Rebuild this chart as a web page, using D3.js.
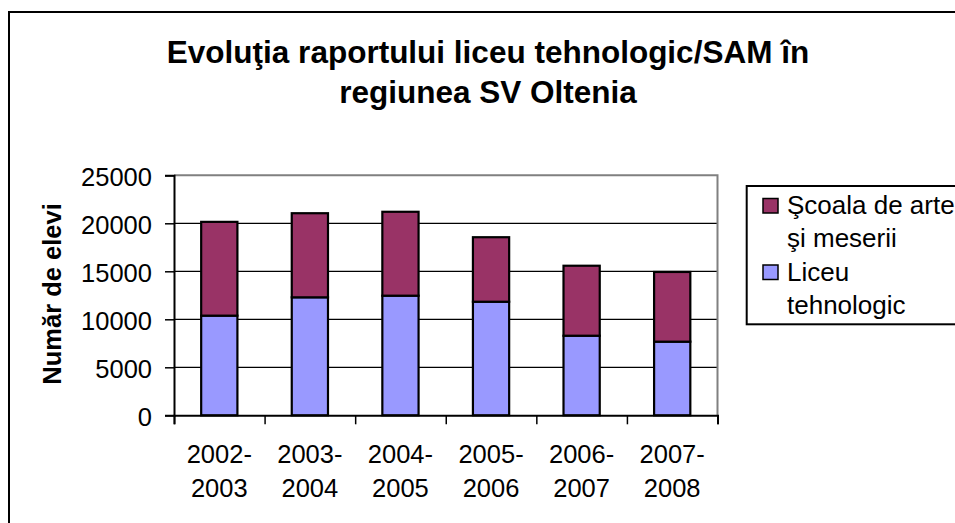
<!DOCTYPE html>
<html>
<head>
<meta charset="utf-8">
<script src="https://cdn.jsdelivr.net/npm/d3@7"></script>
<style>
  body { margin: 0; background: #fff; }
  svg { display: block; font-family: Arial, "Liberation Sans", sans-serif; }
</style>
</head>
<body>
<div id="chart"></div>
<script>
const years = ["2002-2003", "2003-2004", "2004-2005", "2005-2006", "2006-2007", "2007-2008"];
const liceu = [10380, 12290, 12460, 11830, 8290, 7670];
const sam = [9770, 8760, 8740, 6720, 7290, 7260];
const yTicks = [0, 5000, 10000, 15000, 20000, 25000];
const seriesNames = ["Şcoala de arte şi meserii", "Liceu tehnologic"];
const legendLines = [["Şcoala de arte", "şi meserii"], ["Liceu", "tehnologic"]];
const titleLines = ["Evoluţia raportului liceu tehnologic/SAM în", "regiunea SV Oltenia"];
const yLabel = "Număr de elevi";

const width = 955;
const height = 523;
const colors = { sam: "#993366", liceu: "#9999ff" };

const svg = d3.select("#chart")
  .append("svg")
  .attr("width", width)
  .attr("height", height);

svg.append("rect").attr("width", width).attr("height", height).attr("fill", "#fff");

// outer chart frame (cut off on right and bottom)
svg.append("rect")
  .attr("x", 9).attr("y", 12)
  .attr("width", 1000).attr("height", 600)
  .attr("fill", "none").attr("stroke", "#000").attr("stroke-width", 2);

const plot = { left: 174, right: 717.5, top: 175.3, bottom: 415.3 };

const x = d3.scaleBand().domain(years).range([plot.left, plot.right]);
const xEdge = d3.scaleLinear().domain([0, years.length]).range([plot.left, plot.right]);
const y = d3.scaleLinear().domain([0, 25000]).range([plot.bottom, plot.top]);

const barW = x.bandwidth() / 2.5;

// gridlines
svg.append("g")
  .selectAll("line")
  .data(yTicks.filter(d => d > 0 && d < 25000))
  .enter()
  .append("line")
  .attr("x1", plot.left).attr("x2", plot.right)
  .attr("y1", d => y(d)).attr("y2", d => y(d))
  .attr("stroke", "#000").attr("stroke-width", 1.3);

// plot area border top/right (gray)
svg.append("path")
  .attr("d", `M${plot.left},${y(25000)}H${plot.right}V${plot.bottom}`)
  .attr("fill", "none").attr("stroke", "#808080").attr("stroke-width", 2);

const stacks = years.map((yr, i) => ({ yr, liceu: liceu[i], sam: sam[i] }));

const bars = svg.append("g").selectAll("g").data(stacks).enter().append("g");

bars.append("rect")
  .attr("x", d => x(d.yr) + (x.bandwidth() - barW) / 2)
  .attr("width", barW)
  .attr("y", d => y(d.liceu))
  .attr("height", d => y(0) - y(d.liceu))
  .attr("fill", colors.liceu)
  .attr("stroke", "#000").attr("stroke-width", 2.2);

bars.append("rect")
  .attr("x", d => x(d.yr) + (x.bandwidth() - barW) / 2)
  .attr("width", barW)
  .attr("y", d => y(d.liceu + d.sam))
  .attr("height", d => y(d.liceu) - y(d.liceu + d.sam))
  .attr("fill", colors.sam)
  .attr("stroke", "#000").attr("stroke-width", 2.2);

// y axis
const yAxis = svg.append("g")
  .attr("transform", `translate(${plot.left},0)`)
  .call(d3.axisLeft(y).tickValues(yTicks).tickSize(9).tickPadding(13).tickFormat(d3.format("d")));
yAxis.select(".domain").attr("stroke-width", 2);
yAxis.selectAll(".tick line").attr("stroke-width", 1.5);
yAxis.selectAll("text").attr("font-size", 25.5).attr("fill", "#000").attr("dy", "0.38em");

// x axis (ticks at category boundaries)
const xAxis = svg.append("g")
  .attr("transform", `translate(0,${plot.bottom})`)
  .call(d3.axisBottom(xEdge).tickValues(d3.range(years.length + 1)).tickSize(9).tickFormat(""));
xAxis.select(".domain").attr("stroke-width", 2);
xAxis.selectAll(".tick line").attr("stroke-width", 1.5);

// category labels in two lines
const xl = svg.append("g").selectAll("text").data(years).enter()
  .append("text")
  .attr("x", d => x(d) + x.bandwidth() / 2)
  .attr("y", 463)
  .attr("text-anchor", "middle")
  .attr("font-size", 25.5);
xl.append("tspan").attr("x", d => x(d) + x.bandwidth() / 2).text(d => d.split("-")[0] + "-");
xl.append("tspan").attr("x", d => x(d) + x.bandwidth() / 2).attr("dy", 34).text(d => d.split("-")[1]);

// y label
svg.append("text")
  .attr("transform", "translate(61,294) rotate(-90)")
  .attr("text-anchor", "middle")
  .attr("font-size", 25.5)
  .attr("font-weight", "bold")
  .text(yLabel);

// title
const title = svg.append("text")
  .attr("x", 488).attr("y", 63)
  .attr("text-anchor", "middle")
  .attr("font-size", 31.5)
  .attr("font-weight", "bold");
titleLines.forEach((t, i) => {
  title.append("tspan").attr("x", 488).attr("dy", i === 0 ? 0 : 40).text(t);
});

// legend
const legend = svg.append("g");
legend.append("rect")
  .attr("x", 746.7).attr("y", 186)
  .attr("width", 300).attr("height", 138.3)
  .attr("fill", "#fff").attr("stroke", "#000").attr("stroke-width", 2);

const legendColors = [colors.sam, colors.liceu];
const items = legend.selectAll(".legend-item").data(seriesNames).enter()
  .append("g")
  .attr("class", "legend-item")
  .attr("transform", (d, i) => `translate(0,${i * 66.5})`);

items.append("rect")
  .attr("x", 763).attr("y", 198.5)
  .attr("width", 15).attr("height", 14.5)
  .attr("fill", (d, i) => legendColors[i])
  .attr("stroke", "#000").attr("stroke-width", 1.5);

items.each(function (d, i) {
  const t = d3.select(this).append("text")
    .attr("x", 787).attr("y", 214)
    .attr("font-size", 26);
  legendLines[i].forEach((line, j) => {
    t.append("tspan").attr("x", 787).attr("dy", j === 0 ? 0 : 33).text(line);
  });
});
</script>
</body>
</html>
